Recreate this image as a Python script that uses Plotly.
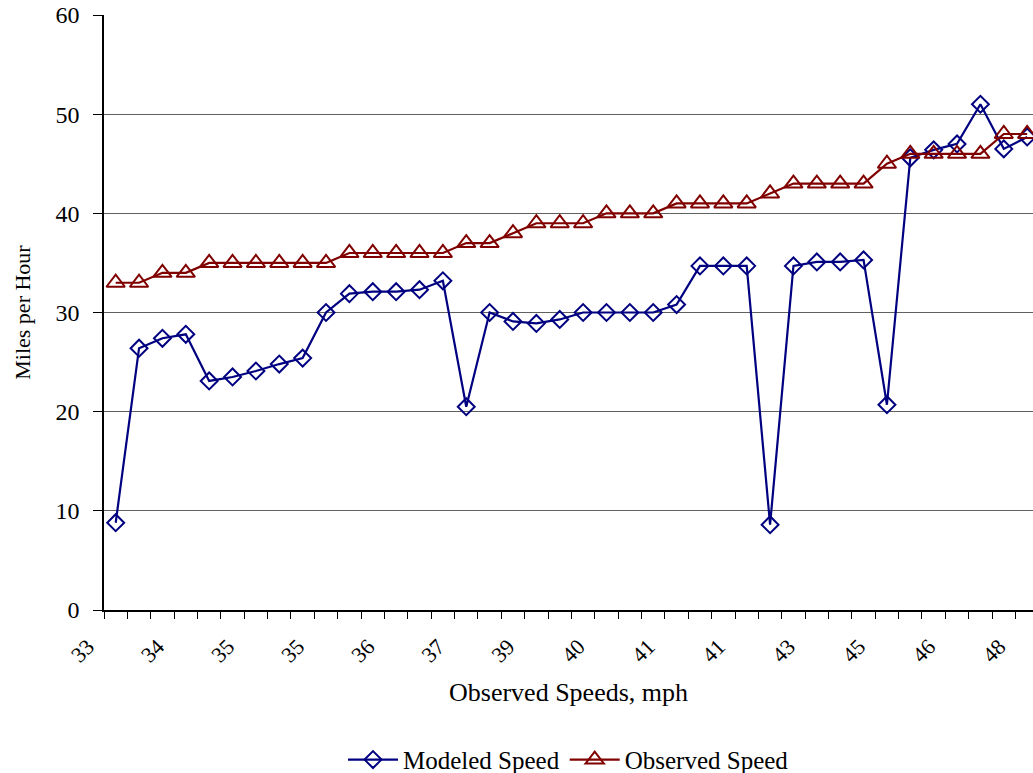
import plotly.graph_objects as go

# Observed speed of each record (category labels along the x axis)
observed = [33, 33, 34, 34, 35, 35, 35, 35, 35, 35,
            36, 36, 36, 36, 36, 37, 37, 38, 39, 39,
            39, 40, 40, 40, 41, 41, 41, 41, 42, 43,
            43, 43, 43, 45, 46, 46, 46, 46, 48, 48]

# Modeled speed for the same records
modeled = [8.8, 26.4, 27.4, 27.8, 23.1, 23.5, 24.1, 24.8, 25.4, 30.0,
           31.9, 32.1, 32.1, 32.3, 33.2, 20.5, 30.0, 29.1, 28.9, 29.3,
           30.0, 30.0, 30.0, 30.0, 30.8, 34.7, 34.7, 34.7, 8.6, 34.7,
           35.1, 35.1, 35.3, 20.7, 45.6, 46.4, 47.0, 51.0, 46.5, 47.7]

y_ticks = [0, 10, 20, 30, 40, 50, 60]

idx = list(range(len(observed)))
label_idx = idx[::3]
label_txt = [str(observed[i]) for i in label_idx]

FONT = "Liberation Serif"

fig = go.Figure()
fig.add_trace(go.Scatter(
    x=idx, y=modeled, name="Modeled Speed", mode="lines+markers",
    line=dict(color="#000080", width=2.2),
    marker=dict(symbol="diamond-open", size=13, color="#000080",
                line=dict(width=2, color="#000080")),
))
fig.add_trace(go.Scatter(
    x=idx, y=observed, name="Observed Speed", mode="lines+markers",
    line=dict(color="#800000", width=2.2),
    marker=dict(symbol="triangle-up-open", size=16, color="#800000",
                line=dict(width=2, color="#800000")),
))

fig.update_layout(
    width=1033, height=773,
    margin=dict(l=104, r=0, t=15, b=163, autoexpand=False),
    plot_bgcolor="white", paper_bgcolor="white",
    font=dict(family=FONT, size=18, color="black"),
    showlegend=True,
    legend=dict(orientation="h", x=0.5, xanchor="center", xref="paper",
                yref="container", y=0.017, yanchor="middle",
                font=dict(size=25), tracegroupgap=0, itemwidth=50),
    xaxis=dict(
        range=[-0.5, 39.25], automargin=False,
        tickmode="array", tickvals=label_idx, ticktext=label_txt,
        tickangle=-45, ticks="", ticklen=0,
        ticklabelstandoff=13, ticklabelshift=-28,
        ticklabeloverflow="allow",
        minor=dict(ticks="outside", tick0=-0.5, dtick=1, ticklen=7,
                   tickcolor="black", showgrid=False),
        showline=True, linecolor="black", linewidth=2,
        showgrid=False, zeroline=False,
        tickfont=dict(size=22),
    ),
    yaxis=dict(
        range=[0, 60], tickmode="array", tickvals=y_ticks, automargin=False,
        ticks="outside", ticklen=9, tickcolor="black", ticklabelstandoff=9,
        showline=True, linecolor="black", linewidth=1.5,
        showgrid=True, gridcolor="#606060", gridwidth=1,
        zeroline=False, tickfont=dict(size=24),
    ),
    annotations=[
        dict(text="Observed Speeds, mph", xref="paper", yref="paper",
             x=0.5, y=-0.138, xanchor="center", yanchor="middle",
             showarrow=False, font=dict(size=26)),
        dict(text="Miles per Hour", xref="paper", yref="paper",
             x=-0.088, y=0.5, xanchor="center", yanchor="middle",
             textangle=-90, showarrow=False, font=dict(size=22)),
    ],
)

fig.write_html("out.html")
